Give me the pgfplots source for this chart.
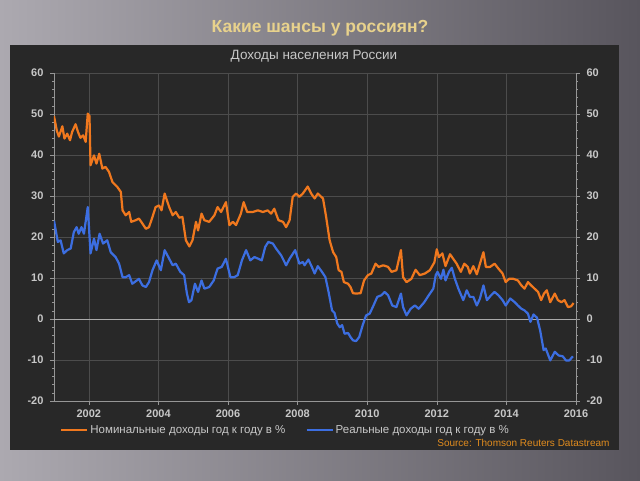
\documentclass[border=0pt]{standalone}
\usepackage{pgfplots}
\pgfplotsset{compat=1.18}
\usepackage{fontspec}
\setmainfont{Liberation Sans}

\definecolor{bgl}{RGB}{172,169,176}
\definecolor{bgr}{RGB}{88,85,93}
\definecolor{panel}{RGB}{40,40,40}
\definecolor{gridc}{RGB}{76,76,76}
\definecolor{zeroc}{RGB}{170,170,170}
\definecolor{axisc}{RGB}{150,150,150}
\definecolor{labc}{RGB}{200,200,200}
\definecolor{nomc}{RGB}{240,120,30}
\definecolor{realc}{RGB}{60,110,225}
\definecolor{srcc}{RGB}{225,140,30}
\definecolor{titlec}{RGB}{232,210,140}

\pgfplotsset{
  panelaxis/.style={
    at={(54pt,79pt)}, anchor=south west, scale only axis,
    width=522pt, height=328pt,
    xmin=2001, xmax=2016, ymin=-20, ymax=60,
    ytick={-20,-10,...,60}, minor y tick num=4,
    tick align=outside,
    major tick length=4pt, minor tick length=2pt,
    every tick/.style={axisc, line width=0.6pt},
    every minor tick/.style={axisc, line width=0.5pt},
    axis line style={axisc, line width=0.8pt},
    tick label style={font=\bfseries\fontsize{11}{13}\selectfont, text=labc},
    /pgf/number format/assume math mode=true,
    /pgf/number format/1000 sep={},
  }
}

\begin{document}
\begin{tikzpicture}[x=1pt,y=1pt]
\path[use as bounding box] (0,0) rectangle (640,480);
\shade[left color=bgl, right color=bgr] (0,0) rectangle (640,480);
\fill[panel] (10,30) rectangle (619,435);
\node[font=\bfseries\fontsize{17.5}{20}\selectfont, text=titlec] at (320,452) {Какие шансы у россиян?};
\node[font=\fontsize{13.5}{16}\selectfont, text=labc] at (314,424) {Доходы населения России};
\node[font=\fontsize{10}{12}\selectfont, text=srcc, anchor=east] at (613,37) {Source: Thomson Reuters Datastream};

\begin{axis}[panelaxis,
  axis x line*=bottom, axis y line*=left,
  xtick={2002,2004,...,2016}, minor x tick num=7,
  yticklabel style={xshift=-3pt},
  xticklabel style={yshift=-1pt},
  grid=major, major grid style={gridc, line width=0.6pt},
  legend columns=2,
  legend style={at={(axis description cs:0.0115,-0.0884)}, anchor=west,
    draw=none, fill=none, text=labc, inner xsep=0pt,
    font=\fontsize{11.5}{13}\selectfont,
    /tikz/every even column/.append style={column sep=18pt}},
  legend image code/.code={\draw[#1] (0pt,0pt) -- (26pt,0pt);},
]
\draw[zeroc, line width=1pt] (axis cs:2001,0) -- (axis cs:2016,0);
\addplot[nomc, line width=2.2pt, line join=round] coordinates {
(2001.00,49.5) (2001.08,46.0) (2001.14,44.5) (2001.24,47.0) (2001.30,44.0)
(2001.38,45.2) (2001.46,43.6) (2001.52,45.6) (2001.62,47.5) (2001.69,45.6)
(2001.76,44.2) (2001.84,44.8) (2001.91,43.2) (2001.97,50.1) (2002.02,49.5)
(2002.05,37.5) (2002.15,39.9) (2002.22,37.9) (2002.30,40.3) (2002.39,36.7)
(2002.48,37.1) (2002.58,35.9) (2002.68,33.4) (2002.82,32.2) (2002.92,31.0)
(2002.97,26.5) (2003.06,25.3) (2003.16,26.1) (2003.22,23.7) (2003.35,24.1)
(2003.44,24.5) (2003.54,23.3) (2003.64,22.0) (2003.73,22.4) (2003.83,24.9)
(2003.92,27.3) (2004.02,27.7) (2004.09,26.5) (2004.18,30.6) (2004.31,27.3)
(2004.41,25.3) (2004.50,26.1) (2004.60,24.7) (2004.69,24.9) (2004.79,19.2)
(2004.89,17.7) (2004.98,19.2) (2005.08,23.7) (2005.14,21.6) (2005.24,25.7)
(2005.32,24.1) (2005.46,23.7) (2005.61,25.3) (2005.70,27.3) (2005.80,26.1)
(2005.94,28.5) (2006.04,22.9) (2006.14,23.7) (2006.23,22.9) (2006.37,25.7)
(2006.45,28.5) (2006.55,26.1) (2006.71,26.1) (2006.86,26.5) (2007.00,26.1)
(2007.14,26.5) (2007.24,25.7) (2007.33,26.9) (2007.45,24.1) (2007.58,23.7)
(2007.67,22.4) (2007.77,24.1) (2007.86,29.8) (2007.96,30.6) (2008.05,29.8)
(2008.15,30.6) (2008.29,32.3) (2008.39,30.6) (2008.49,29.4) (2008.58,30.6)
(2008.73,29.4) (2008.82,24.9) (2008.92,19.2) (2009.02,16.3) (2009.11,15.1)
(2009.18,11.9) (2009.26,11.5) (2009.33,9.0) (2009.45,8.6) (2009.52,7.8)
(2009.59,6.3) (2009.68,6.2) (2009.81,6.3) (2009.91,9.4) (2010.02,10.7)
(2010.12,11.1) (2010.24,13.5) (2010.33,12.7) (2010.46,13.1) (2010.60,12.7)
(2010.70,11.5) (2010.84,11.9) (2010.97,16.8) (2011.03,10.2) (2011.13,9.0)
(2011.27,9.8) (2011.39,12.0) (2011.51,10.7) (2011.66,11.1) (2011.80,11.9)
(2011.93,13.8) (2012.00,17.0) (2012.06,15.1) (2012.16,16.0) (2012.25,12.9)
(2012.38,15.8) (2012.47,14.7) (2012.57,13.5) (2012.69,11.5) (2012.79,13.5)
(2012.89,12.7) (2012.95,11.1) (2013.05,12.9) (2013.15,10.9) (2013.24,13.5)
(2013.34,16.3) (2013.41,12.7) (2013.53,12.7) (2013.66,13.5) (2013.77,12.3)
(2013.89,11.1) (2013.98,9.0) (2014.08,9.8) (2014.20,9.8) (2014.33,9.4)
(2014.43,8.2) (2014.52,7.4) (2014.62,9.0) (2014.71,8.2) (2014.81,7.4)
(2014.91,6.6) (2015.00,4.6) (2015.08,6.2) (2015.16,7.0) (2015.26,4.1)
(2015.39,6.2) (2015.48,4.6) (2015.58,4.1) (2015.67,4.6) (2015.77,2.9)
(2015.86,3.1) (2015.93,3.9)
};
\addlegendentry{Номинальные доходы год к году в \%}
\addplot[realc, line width=2.2pt, line join=round] coordinates {
(2001.00,24.0) (2001.11,18.8) (2001.19,19.2) (2001.28,16.0) (2001.38,16.8)
(2001.48,17.2) (2001.57,21.2) (2001.65,22.4) (2001.71,20.8) (2001.79,22.4)
(2001.86,20.8) (2001.97,27.3) (2002.05,16.0) (2002.15,19.6) (2002.22,16.8)
(2002.31,20.8) (2002.41,18.4) (2002.53,19.2) (2002.63,16.3) (2002.77,15.1)
(2002.87,13.5) (2002.97,10.2) (2003.06,10.2) (2003.16,10.7) (2003.25,8.6)
(2003.38,9.4) (2003.44,9.8) (2003.54,8.2) (2003.64,7.8) (2003.73,9.0)
(2003.83,11.9) (2003.95,14.3) (2004.07,11.9) (2004.18,16.8) (2004.31,14.7)
(2004.41,13.1) (2004.50,13.5) (2004.63,11.5) (2004.74,10.7) (2004.82,6.2)
(2004.88,4.1) (2004.95,4.6) (2005.05,8.6) (2005.14,6.6) (2005.24,9.4)
(2005.32,7.4) (2005.46,7.8) (2005.59,9.4) (2005.70,12.3) (2005.82,12.7)
(2005.94,14.7) (2006.07,10.2) (2006.18,10.2) (2006.28,10.7) (2006.40,14.3)
(2006.52,16.8) (2006.64,14.3) (2006.76,15.1) (2006.87,14.7) (2006.97,14.3)
(2007.07,17.6) (2007.16,18.8) (2007.29,18.4) (2007.38,17.2) (2007.53,15.5)
(2007.67,13.1) (2007.77,14.7) (2007.93,16.8) (2008.05,13.5) (2008.15,13.9)
(2008.20,13.1) (2008.31,14.5) (2008.41,12.7) (2008.49,11.1) (2008.58,12.9)
(2008.70,11.5) (2008.80,10.2) (2008.89,6.6) (2008.99,2.1) (2009.06,1.5)
(2009.14,-1.1) (2009.21,-2.0) (2009.28,-1.5) (2009.35,-3.6) (2009.45,-3.4)
(2009.52,-4.4) (2009.59,-5.2) (2009.68,-5.4) (2009.77,-4.4) (2009.87,-1.5)
(2009.97,0.9) (2010.07,1.3) (2010.16,2.9) (2010.29,5.4) (2010.41,5.8)
(2010.50,6.6) (2010.60,5.8) (2010.72,3.3) (2010.84,2.9) (2010.97,6.2)
(2011.03,2.9) (2011.13,0.9) (2011.25,2.5) (2011.37,3.3) (2011.48,2.5)
(2011.64,4.1) (2011.77,5.8) (2011.90,7.4) (2011.97,10.7) (2012.02,11.5)
(2012.12,9.8) (2012.19,12.0) (2012.25,9.4) (2012.35,11.5) (2012.43,12.5)
(2012.52,9.8) (2012.62,7.4) (2012.76,4.6) (2012.86,7.0) (2012.95,5.4)
(2013.05,5.4) (2013.15,3.3) (2013.24,5.0) (2013.34,8.2) (2013.44,4.6)
(2013.56,5.8) (2013.66,6.6) (2013.77,5.8) (2013.89,4.6) (2013.98,3.3)
(2014.11,5.0) (2014.24,4.1) (2014.33,3.3) (2014.43,2.5) (2014.52,2.1)
(2014.62,1.3) (2014.69,-0.7) (2014.78,1.1) (2014.88,0.3) (2014.97,-2.8)
(2015.07,-7.6) (2015.13,-7.2) (2015.26,-10.1) (2015.39,-8.0) (2015.50,-8.9)
(2015.62,-9.1) (2015.71,-10.1) (2015.81,-10.1) (2015.91,-9.1)
};
\addlegendentry{Реальные доходы год к году в \%}
\end{axis}

\begin{axis}[panelaxis,
  axis x line=none, axis y line*=right,
  yticklabel style={anchor=west, xshift=3pt},
]
\end{axis}
\end{tikzpicture}
\end{document}
